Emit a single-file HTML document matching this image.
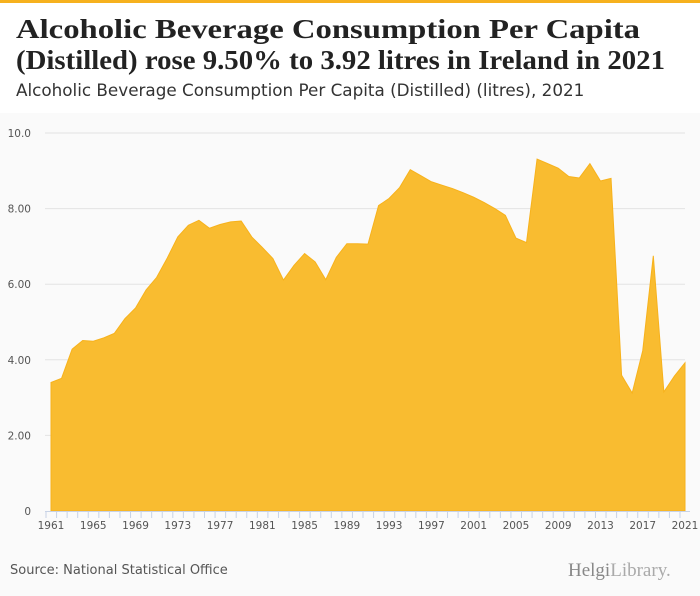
<!DOCTYPE html>
<html><head><meta charset="utf-8"><style>
body{margin:0;width:700px;height:596px;overflow:hidden;background:#fff;font-family:"DejaVu Sans",sans-serif;position:relative}
.top{position:absolute;left:0;top:0;width:700px;height:3px;background:#f6b11e}
.sub{position:absolute;left:16px;top:80px;font-size:16.8px;color:#333;white-space:nowrap}
.bg{position:absolute;left:0;top:113px;width:700px;height:483px;background:#fafafa}
.src{position:absolute;left:10px;top:563px;font-size:13px;color:#555}
.logo{position:absolute;left:568px;top:560px;font:19px "Liberation Serif",serif;color:#888}
svg{position:absolute;left:0;top:0}
</style></head><body>
<div class="top"></div>
<div class="bg"></div>
<svg width="700" height="80" style="font:bold 27px 'Liberation Serif',serif;fill:#222">
<text x="16" y="38" textLength="624" lengthAdjust="spacingAndGlyphs">Alcoholic Beverage Consumption Per Capita</text>
<text x="16" y="69" textLength="649" lengthAdjust="spacingAndGlyphs">(Distilled) rose 9.50% to 3.92 litres in Ireland in 2021</text>
</svg>
<div class="sub">Alcoholic Beverage Consumption Per Capita (Distilled) (litres), 2021</div>
<svg id="c" width="700" height="596"></svg>
<div class="src">Source: National Statistical Office</div>
<div class="logo">Helgi<span style="color:#aaa">Library.</span></div>
<script>
const startYear = 1961;
const values = [3.40,3.51,4.28,4.51,4.49,4.58,4.70,5.09,5.37,5.85,6.18,6.69,7.25,7.56,7.69,7.48,7.58,7.65,7.67,7.25,6.97,6.68,6.11,6.50,6.81,6.59,6.12,6.71,7.07,7.07,7.06,8.08,8.27,8.56,9.03,8.87,8.71,8.62,8.53,8.42,8.30,8.16,8.00,7.82,7.22,7.10,9.31,9.19,9.07,8.85,8.81,9.19,8.73,8.80,3.59,3.12,4.24,6.75,3.15,3.57,3.92];
const yTicks = [0,2,4,6,8,10];
const yTickLabels = ["0","2.00","4.00","6.00","8.00","10.0"];
const NS="http://www.w3.org/2000/svg", svg=document.getElementById('c');
const x0=51,x1=685,yb=511,yt=133;
const X=i=>x0+(x1-x0)*i/(values.length-1);
const Y=v=>yb-(yb-yt)*v/10;
function mk(t,a){const e=document.createElementNS(NS,t);for(const k in a)e.setAttribute(k,a[k]);svg.appendChild(e);return e;}
yTicks.forEach((t,i)=>{
  if(t>0){const l=mk('line',{x1:45,x2:685,y1:Y(t),y2:Y(t),stroke:'#e3e3e3'});
  
  }
  const tx=mk('text',{x:31,y:Y(t)+4,'text-anchor':'end','font-size':'10.5',fill:'#555','font-family':'DejaVu Sans'});
  tx.textContent=yTickLabels[i];
  
  
});
let d=`M${X(0)},${yb}`;values.forEach((v,i)=>d+=`L${X(i)},${Y(v)}`);d+=`L${X(values.length-1)},${yb}Z`;
const a=mk('path',{d:d,fill:'#f9bc30',stroke:'#f7b21c','stroke-width':1});


const ax=mk('line',{x1:45,x2:690,y1:yb+0.5,y2:yb+0.5,stroke:'#c8d3e6'});


values.forEach((v,i)=>{
  const tk=mk('line',{x1:X(i)-5,x2:X(i)-5,y1:yb,y2:yb+7,stroke:'#c8d3e6'});
  
  
  if(i%4===0){const t=mk('text',{x:X(i),y:529,'text-anchor':'middle','font-size':'10.5',fill:'#555','font-family':'DejaVu Sans'});
  t.textContent=startYear+i;
  
  }
});
</script>
</body></html>
